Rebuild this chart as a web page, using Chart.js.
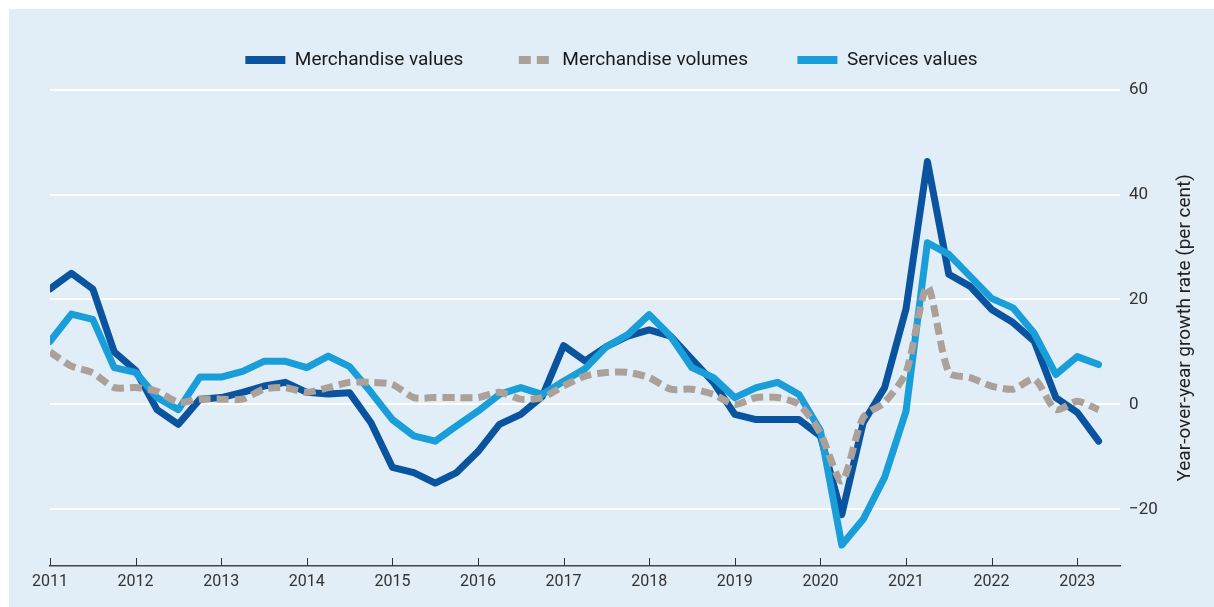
<!DOCTYPE html>
<html>
<head>
<meta charset="utf-8">
<script src="https://cdn.jsdelivr.net/npm/chart.js@4.4.0/dist/chart.umd.min.js"></script>
<style>
  body { margin: 0; background: #fff; }
  #box { position: absolute; left: 9px; top: 9px; width: 1205px; height: 598px; background: #e1eef8; }
</style>
</head>
<body>
<div id="box"><canvas id="grafico" width="1205" height="598"></canvas></div>
<script>
// dados trimestrais, 2011 T1 ate 2023 T2
var anos = [2011, 2012, 2013, 2014, 2015, 2016, 2017, 2018, 2019, 2020, 2021, 2022, 2023];
var ticksY = [-20, 0, 20, 40, 60];
var tituloEixoY = "Year-over-year growth rate (per cent)";

var merchValues = [
  22, 25, 22, 10,
  6.5, -1, -3.8, 1,
  1.3, 2.3, 3.5, 4.2,
  2.3, 2, 2.2, -3.5,
  -12, -13, -15, -13,
  -9, -3.8, -1.9, 1.5,
  11.2, 8.3, 11, 13,
  14.2, 13, 8.6, 4.2,
  -1.9, -2.9, -2.9, -2.9,
  -6, -21, -3.5, 3.2,
  18.2, 46.3, 24.8, 22.5,
  18.1, 15.6, 12, 1.3,
  -1.5, -7
];

var merchVolumes = [
  10, 7.3, 6, 3.2,
  3.2, 2.5, 0.4, 1,
  1, 1, 2.9, 3.2,
  2.3, 3.2, 4.2, 4.2,
  3.8, 1.3, 1.3, 1.3,
  1.3, 2.3, 1, 1.3,
  3.5, 5.4, 6.1, 6.1,
  5.1, 2.9, 2.9, 1.9,
  0, 1.3, 1.3, 0,
  -5.5, -14.6, -2.5, 0.4,
  6.1, 22.5, 6.1, 5.1,
  3.5, 2.9, 4.8, -1,
  0.6, -1
];

var servicesValues = [
  12, 17.2, 16.2, 7,
  6.1, 1.3, -1, 5.2,
  5.2, 6.3, 8.2, 8.2,
  7, 9.2, 7.2, 2.3,
  -2.9, -6, -7, -4.1,
  -1.3, 1.9, 3.2, 1.9,
  4.4, 6.8, 11, 13.3,
  17.1, 13, 7, 5.1,
  1.3, 3.2, 4.2, 1.9,
  -5, -26.8, -21.9, -13.9,
  -1.3, 30.8, 28.6, 24.4,
  20.2, 18.4, 13.5, 5.7,
  9.1, 7.6
];

function pontos(serie) {
  return serie.map((v, i) => ({ x: anos[0] + i / 4, y: v }));
}

// tracinhos do eixo x para cima;
var marcasX = {
  id: "marcasX",
  beforeDatasetsDraw(chart) {
    var ctx = chart.ctx, x = chart.scales.x, area = chart.chartArea;
    ctx.save();
    ctx.strokeStyle = "#333";
    ctx.lineWidth = 1;
    x.ticks.forEach((t) => {
      var px = Math.round(x.getPixelForValue(t.value)) + 0.5;
      ctx.beginPath();
      ctx.moveTo(px, area.bottom);
      ctx.lineTo(px, area.bottom - 8);
      ctx.stroke();
    });
    ctx.restore();
  }
};

// titulo do eixo y (lido de baixo para cima);
var tituloY = {
  id: "tituloY",
  afterDraw(chart) {
    var ctx = chart.ctx, area = chart.chartArea, y = chart.scales.y;
    ctx.save();
    ctx.translate(y.right - 29, (area.top + area.bottom) / 2);
    ctx.rotate(-Math.PI / 2);
    ctx.font = "19px Roboto";
    ctx.fillStyle = "#222";
    ctx.textAlign = "center";
    ctx.textBaseline = "middle";
    ctx.fillText(tituloEixoY, 0, 0);
    ctx.restore();
  }
};

var grafico = new Chart(document.getElementById("grafico"), {
  type: "line",
  data: {
    datasets: [{
      label: "Merchandise values",
      data: pontos(merchValues),
      borderColor: "#0a539f",
      borderWidth: 7,
      borderCapStyle: "round",
      borderJoinStyle: "round",
      pointRadius: 0,
      order: 2
    }, {
      label: "Merchandise volumes",
      data: pontos(merchVolumes),
      borderColor: "#aca198",
      borderWidth: 7,
      borderDash: [12, 6],
      pointRadius: 0,
      tension: 0.25,
      order: 0
    }, {
      label: "Services values",
      data: pontos(servicesValues),
      borderColor: "#1a9ed9",
      borderWidth: 7,
      borderCapStyle: "round",
      borderJoinStyle: "round",
      pointRadius: 0,
      order: 1
    }]
  },
  options: {
    responsive: false,
    animation: false,
    devicePixelRatio: 1,
    layout: { padding: { top: -8, left: 0, right: 0, bottom: 0 } },
    plugins: {
      tooltip: { enabled: false },
      legend: {
        labels: {
          usePointStyle: true,
          pointStyleWidth: 40,
          padding: 49.5,
          color: "#1a1a1a",
          font: { family: "Roboto", size: 19 },
          generateLabels: (chart) => chart.data.datasets.map((ds, i) => ({
            text: ds.label,
            strokeStyle: ds.borderColor,
            fillStyle: ds.borderColor,
            fontColor: "#1a1a1a",
            lineWidth: 8,
            lineCap: "butt",
            lineDash: ds.borderDash || [],
            lineDashOffset: ds.borderDash ? 12 : 0,
            pointStyle: "line",
            hidden: false,
            datasetIndex: i
          }))
        }
      },
      // so um espaco entre a legenda e o grafico;
      subtitle: { display: true, text: "", weight: 500, padding: 0, font: { size: 8.4 } }
    },
    scales: {
      x: {
        type: "linear",
        min: 2011,
        max: 2023.5,
        afterBuildTicks: (s) => { s.ticks = anos.map((v) => ({ value: v })); },
        afterFit: (s) => { s.height = 41; },
        grid: { display: false, drawTicks: false },
        border: { display: true, color: "#444", width: 1.5 },
        ticks: {
          autoSkip: false,
          maxRotation: 0,
          padding: 6,
          color: "#333",
          font: { family: "Roboto", size: 16 },
          callback: (v) => String(v)
        }
      },
      y: {
        position: "right",
        min: -30.8,
        max: 60,
        afterBuildTicks: (s) => { s.ticks = ticksY.map((v) => ({ value: v })); },
        afterFit: (s) => { s.width = 94; },
        grid: { color: "#ffffff", lineWidth: 2, drawTicks: false },
        border: { display: false },
        ticks: {
          padding: 9,
          color: "#333",
          font: { family: "Roboto", size: 17 },
          callback: (v) => String(v).replace("-", "\u2212")
        }
      },
      // margem vazia a esquerda (deixa a legenda centrada);
      margem: {
        position: "left",
        afterFit: (s) => { s.width = 41; },
        grid: { display: false, drawTicks: false },
        border: { display: false },
        ticks: { display: false }
      }
    }
  },
  plugins: [marcasX, tituloY]
});
</script>
</body>
</html>
